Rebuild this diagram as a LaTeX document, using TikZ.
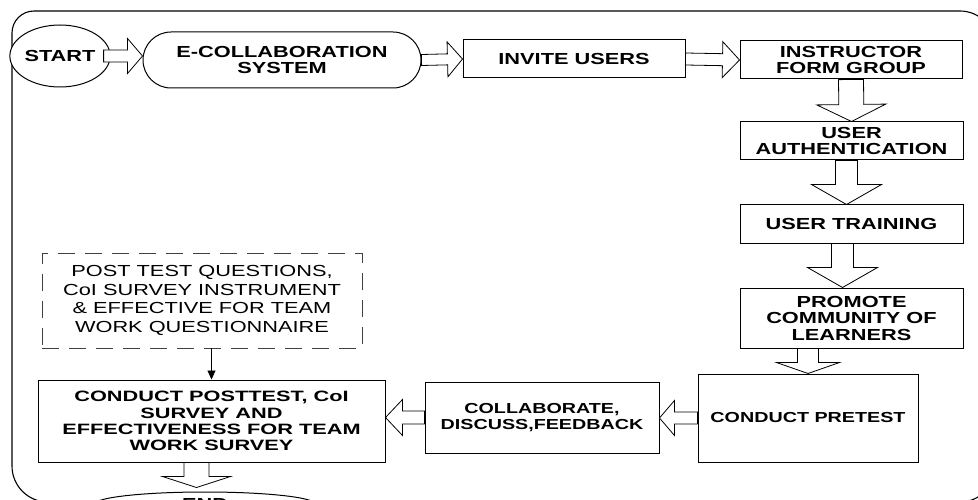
\documentclass[tikz,border=0pt]{standalone}
\usepackage{fontspec}
\setmainfont{Liberation Sans}[FakeStretch=1.36]
\newfontfamily\widefont{Liberation Sans}[FakeStretch=1.45]
\usetikzlibrary{calc,shapes.geometric,arrows.meta}

% Hollow block arrow from #1 to the tip #2:
% #3 shaft half-width, #4 head half-width, #5 head length
\newcommand\fatarrow[5]{%
  \path (#1) coordinate (fa-a) (#2) coordinate (fa-b);
  \path ($(fa-b)!#5!(fa-a)$) coordinate (fa-h);
  \draw[blockarr]
    ($(fa-a)!#3!90:(fa-b)$) -- ($(fa-h)!#3!90:(fa-b)$) --
    ($(fa-h)!#4!90:(fa-b)$) -- (fa-b) --
    ($(fa-h)!#4!-90:(fa-b)$) -- ($(fa-h)!#3!-90:(fa-b)$) --
    ($(fa-a)!#3!-90:(fa-b)$) -- cycle;
}

\tikzset{
  base/.style={inner sep=0pt, align=center, line width=1pt, draw=black, fill=white,
    font=\bfseries\fontsize{16}{16.5}\selectfont},
  stepbox/.style={base, rectangle},
  smallbox/.style={stepbox, font=\bfseries\fontsize{14.5}{16.5}\selectfont},
  widebox/.style={stepbox, font=\widefont\bfseries\fontsize{15}{16.3}\selectfont},
  terminal/.style={base, ellipse},
  stadium/.style={base, rectangle, rounded corners=28pt},
  notebox/.style={base, rectangle, draw=black!75, line width=0.9pt,
    dash pattern=on 17pt off 10pt, font=\fontsize{16}{18.5}\selectfont},
  blockarr/.style={draw=black, fill=white, line width=0.8pt, line join=miter},
  framebox/.style={draw=black, line width=1.1pt},
  thinarr/.style={draw=black, line width=0.9pt, -{Triangle[length=9pt,width=8pt]}}
}

\begin{document}
\begin{tikzpicture}[x=1pt, y=-1pt]
\useasboundingbox (0,0) rectangle (978,500);
\clip (0,0) rectangle (978,500);

% outer frame
\draw[framebox] (400,502) [rounded corners=36pt] -- (12,502) -- (12,300)
  [sharp corners] -- (12,200) [rounded corners=22pt] -- (12,11) -- (500,11)
  [sharp corners] -- (600,11) [rounded corners=35pt] -- (995,11) -- (995,502) -- (400,502);

% process steps
\node[terminal, minimum width=94pt, minimum height=62pt] (start) at (60,56) {START};
\node[stadium, minimum width=278pt, minimum height=56pt] (ecol) at (282,60) {E-COLLABORATION\\SYSTEM};
\node[stepbox, minimum width=222pt, minimum height=38pt] (invite) at (574,59) {INVITE USERS};
\node[stepbox, minimum width=222pt, minimum height=38pt] (instr) at (851,60) {INSTRUCTOR\\FORM GROUP};
\node[stepbox, minimum width=223pt, minimum height=38pt] (auth) at (851.5,141) {USER\\AUTHENTICATION};
\node[stepbox, minimum width=223pt, minimum height=38pt] (train) at (851.5,224) {USER TRAINING};
\node[stepbox, minimum width=223pt, minimum height=60pt] (promote) at (851.5,318) {PROMOTE\\COMMUNITY OF\\LEARNERS};
\node[smallbox, minimum width=220pt, minimum height=88pt] (pretest) at (808,418) {CONDUCT PRETEST};
\node[smallbox, minimum width=234pt, minimum height=71pt] (collab) at (542,417.5) {COLLABORATE,\\DISCUSS,FEEDBACK};
\node[widebox, minimum width=347pt, minimum height=82pt] (post) at (211.5,421) {CONDUCT POSTTEST, CoI\\SURVEY AND\\EFFECTIVENESS FOR TEAM\\WORK SURVEY};
\node[notebox, minimum width=320pt, minimum height=95pt] (instr-note) at (202,300.5) {POST TEST QUESTIONS,\\CoI SURVEY INSTRUMENT\\\& EFFECTIVE FOR TEAM\\WORK QUESTIONNAIRE};
\node[terminal, minimum width=220pt, minimum height=24pt] (end) at (205,504) {END};

% connectors
\fatarrow{[xshift=-7pt]start.east}{start.east -| ecol.west}{6pt}{17.5pt}{15pt}
\fatarrow{ecol.east}{invite.west}{5.5pt}{17.5pt}{15pt}
\fatarrow{invite.east}{instr.west}{6pt}{18pt}{17pt}
\fatarrow{instr.south}{auth.north}{12.5pt}{34.5pt}{17pt}
\fatarrow{[xshift=-5pt]auth.south}{[xshift=-5pt]train.north}{11pt}{35pt}{20pt}
\fatarrow{[xshift=-9pt]train.south}{[xshift=-9pt]promote.north}{11pt}{35pt}{20pt}
\fatarrow{pretest.north |- promote.south}{pretest.north}{10.5pt}{31.5pt}{11pt}
\fatarrow{pretest.west}{pretest.west -| collab.east}{6pt}{17.5pt}{15pt}
\fatarrow{collab.west}{collab.west -| post.east}{6.5pt}{18pt}{17pt}
\coordinate (pe) at ([xshift=-15pt]post.south);
\coordinate (pend) at ($(pe |- end.north)+(0,-4)$);
\fatarrow{pe}{pend}{12.5pt}{34pt}{11pt}
\draw[thinarr] (instr-note.south -| post.north) -- (post.north);
\end{tikzpicture}
\end{document}
